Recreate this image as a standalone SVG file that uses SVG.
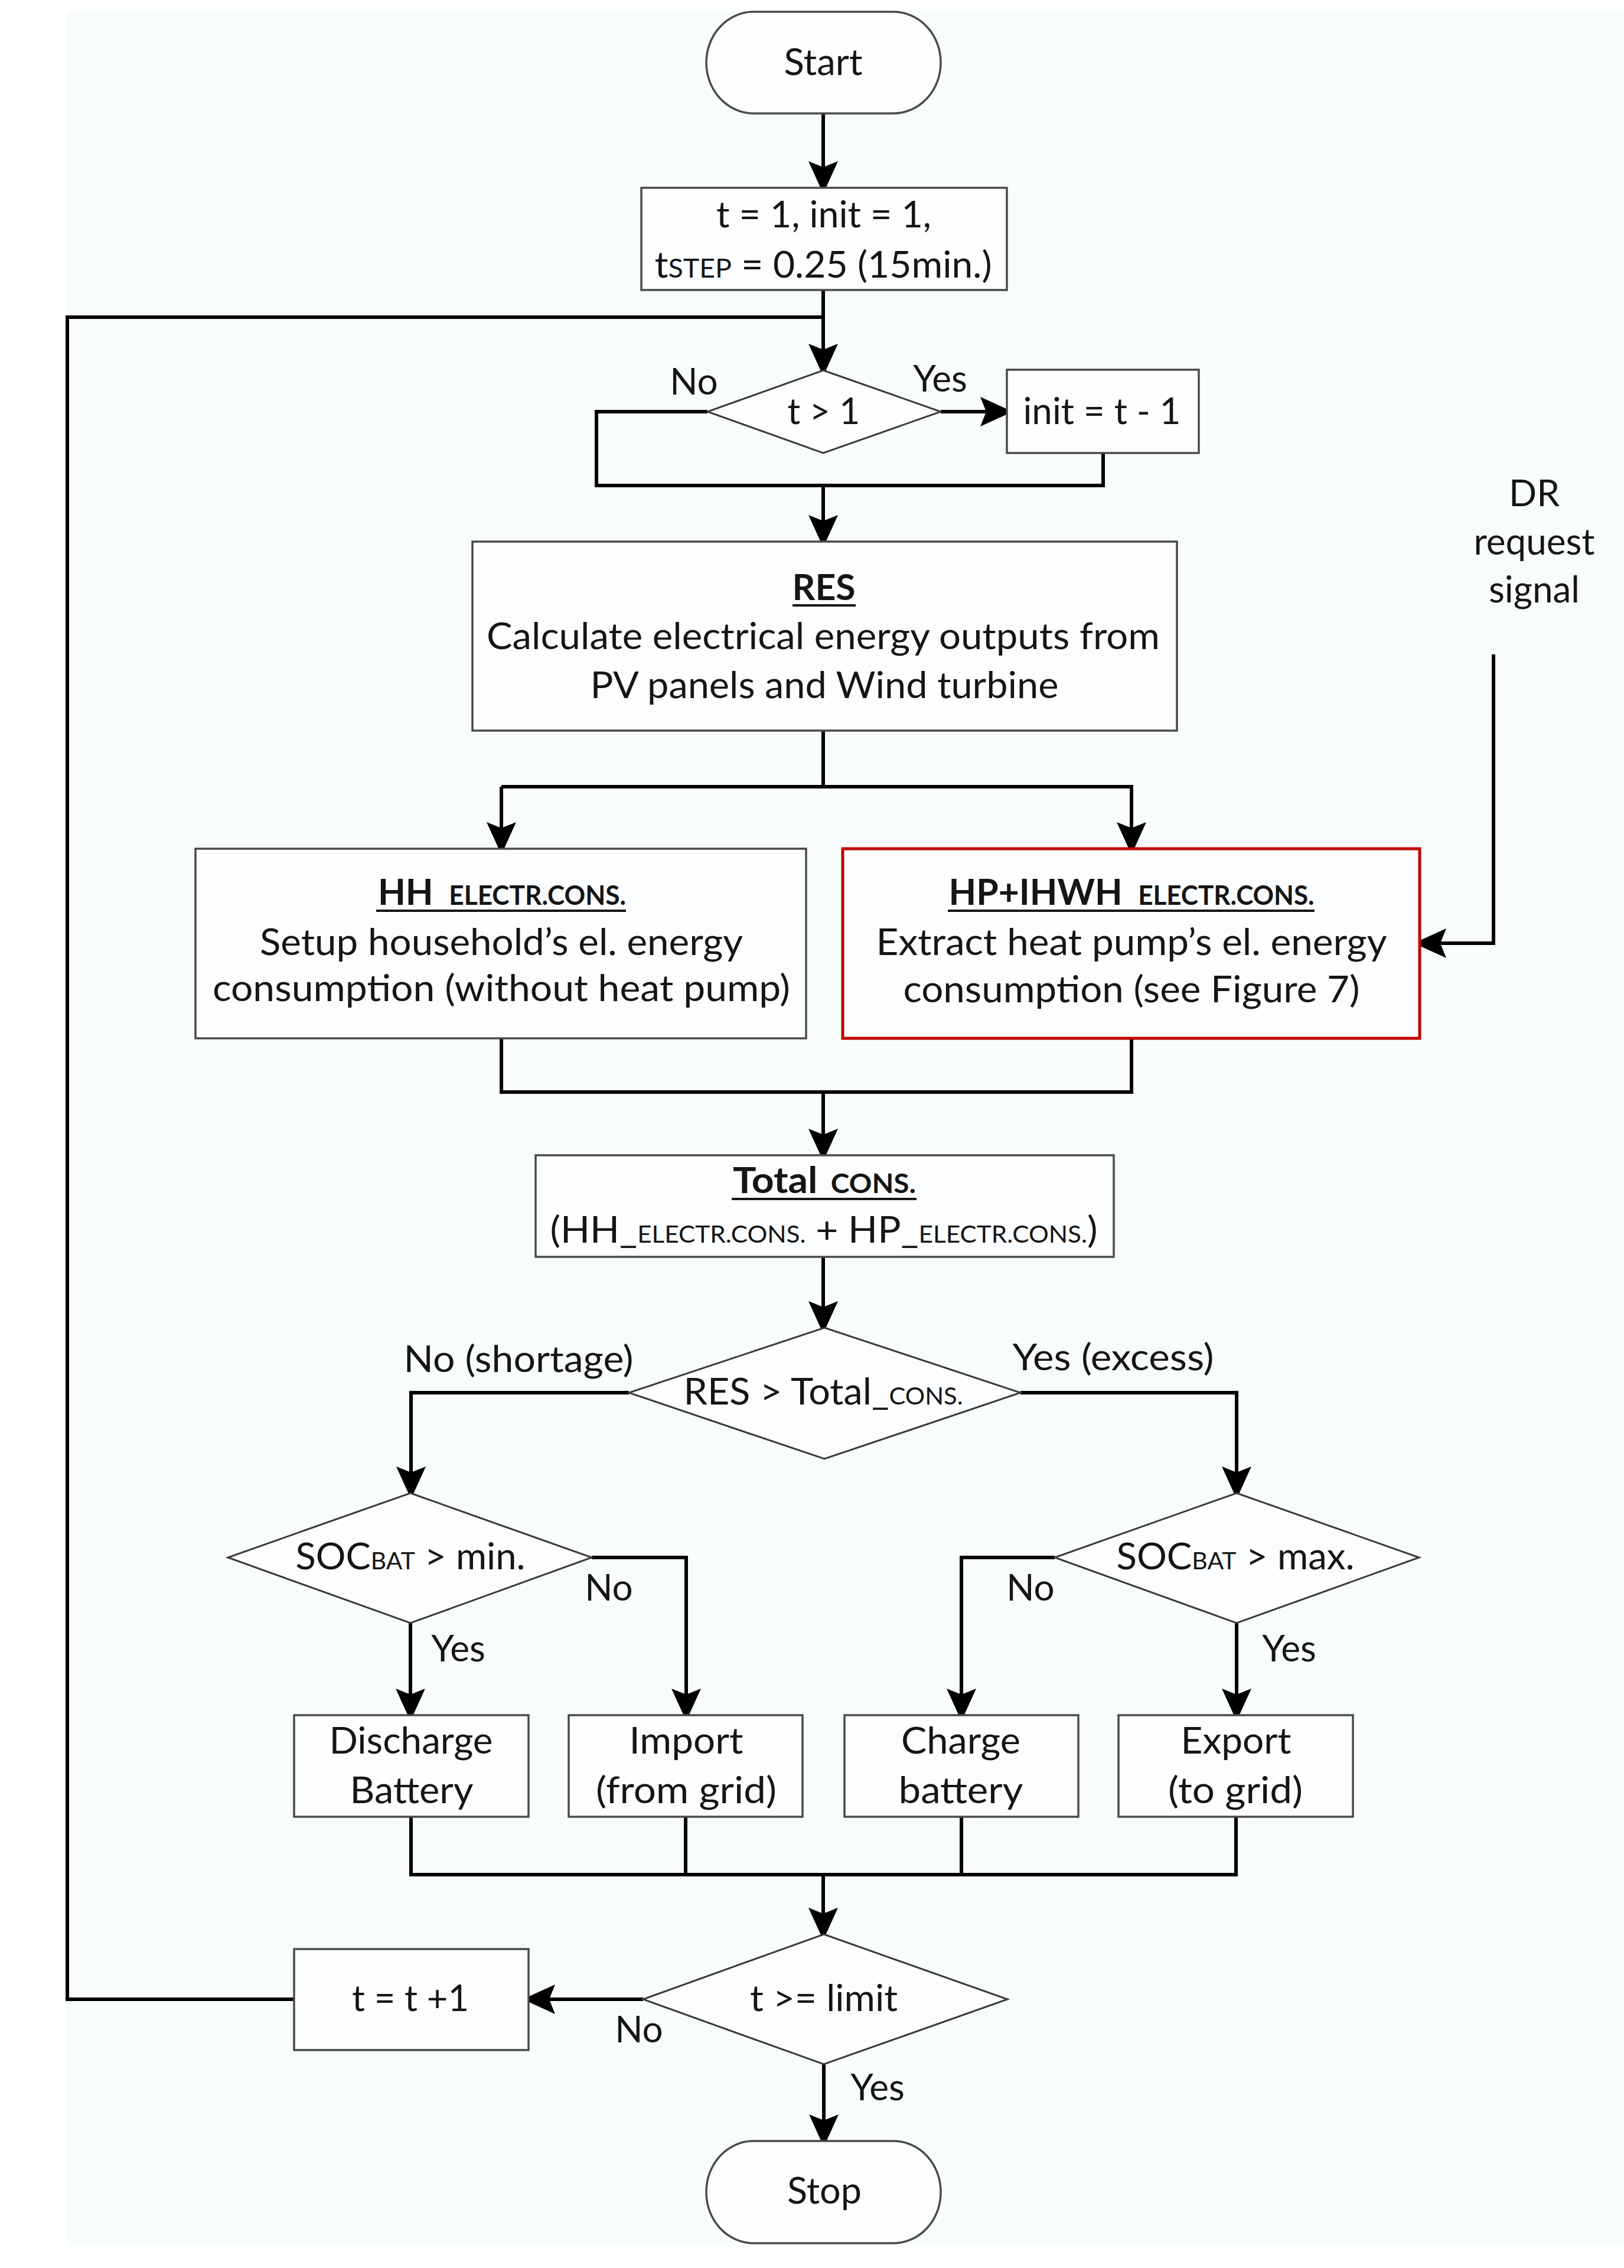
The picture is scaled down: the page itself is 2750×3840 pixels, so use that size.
<svg xmlns="http://www.w3.org/2000/svg" width="2750" height="3840" viewBox="0 0 2750 3840">
<style>
.t{font-family:Lato,'Open Sans','Liberation Sans',sans-serif;font-size:62px;fill:#151515;text-anchor:middle}
.b{font-weight:bold}
.s{font-size:45px}
.s2{font-size:40px}
.box{fill:#fbfdfe;stroke:#4a4a4a;stroke-width:3.5}
.dia{fill:#fbfdfe;stroke:#3a3a3a;stroke-width:3}
.red{fill:#fbfdfe;stroke:#c00000;stroke-width:5}
.c{fill:none;stroke:#000;stroke-width:6;stroke-linejoin:miter}
.a{marker-end:url(#ah)}
.ul{stroke:#151515;stroke-width:4}
</style>
<defs>
<marker id="ah" viewBox="0 0 55 50" refX="45" refY="25" markerWidth="55" markerHeight="50" markerUnits="userSpaceOnUse" orient="auto">
<path d="M0,0 L55,25 L0,50 L10,25 Z" fill="#000"/>
</marker>
</defs>
<rect width="2750" height="3840" fill="#ffffff"/>
<rect x="112" y="18" width="2638" height="3786" fill="#f9fcfd"/>

<g id="connectors">
<path class="c a" d="M1394,192 V318"/>
<path class="c a" d="M1394,491 V627"/>
<path class="c a" d="M1593,697 H1705"/>
<path class="c" d="M1198,697 H1010 V822 H1868 V767"/>
<path class="c a" d="M1394,822 V917"/>
<path class="c" d="M1394,1237 V1332"/>
<path class="c a" d="M849,1332 H1394 M849,1332 V1437"/>
<path class="c a" d="M1394,1332 H1916 V1437"/>
<path class="c a" d="M2529,1108 V1597 H2404"/>
<path class="c" d="M849,1758 V1849 H1916 V1758"/>
<path class="c a" d="M1394,1849 V1956"/>
<path class="c a" d="M1394,2128 V2248"/>
<path class="c a" d="M1065,2358 H696 V2528"/>
<path class="c a" d="M1728,2358 H2094 V2528"/>
<path class="c a" d="M695,2748 V2904"/>
<path class="c a" d="M1002,2637 H1162 V2904"/>
<path class="c a" d="M2094,2748 V2904"/>
<path class="c a" d="M1786,2637 H1628 V2904"/>
<path class="c" d="M696,3076 V3174 H2093 V3076 M1161,3076 V3174 M1628,3076 V3174"/>
<path class="c a" d="M1394,3174 V3275"/>
<path class="c a" d="M1089,3385 H895"/>
<path class="c" d="M498,3385 H114 V537 H1394"/>
<path class="c a" d="M1395,3495 V3625"/>
</g>

<g id="start">
<rect class="box" x="1196" y="20" width="397" height="172" rx="80" ry="86"/>
<text class="t" x="1394" y="127" textLength="133" lengthAdjust="spacingAndGlyphs">Start</text>
</g>

<g id="init">
<rect class="box" x="1086" y="318" width="619" height="173"/>
<text class="t" x="1395" y="385" textLength="364" lengthAdjust="spacingAndGlyphs">t = 1, init = 1,</text>
<text class="t" x="1394" y="470" textLength="571" lengthAdjust="spacingAndGlyphs">t<tspan class="s">STEP</tspan> = 0.25 (15min.)</text>
</g>

<g id="dec-t1">
<polygon class="dia" points="1394,627 1593,697 1394,767 1198,697"/>
<text class="t" x="1395" y="718" textLength="123" lengthAdjust="spacingAndGlyphs">t &gt; 1</text>
<text class="t" x="1175" y="668">No</text>
<text class="t" x="1592" y="663">Yes</text>
</g>

<g id="init-update">
<rect class="box" x="1705" y="626" width="325" height="141"/>
<text class="t" x="1866" y="718" textLength="267" lengthAdjust="spacingAndGlyphs">init = t - 1</text>
</g>

<g id="dr-signal">
<text class="t" x="2598" y="857">DR</text>
<text class="t" x="2598" y="939">request</text>
<text class="t" x="2598" y="1020">signal</text>
</g>

<g id="res">
<rect class="box" x="800" y="917" width="1193" height="320"/>
<text class="t b" x="1395" y="1016" textLength="107" lengthAdjust="spacingAndGlyphs">RES</text>
<line class="ul" x1="1342" y1="1025" x2="1449" y2="1025"/>
<text class="t" x="1394" y="1099" textLength="1140" lengthAdjust="spacingAndGlyphs">Calculate electrical energy outputs from</text>
<text class="t" x="1396" y="1182" textLength="793" lengthAdjust="spacingAndGlyphs">PV panels and Wind turbine</text>
</g>

<g id="hh">
<rect class="box" x="331" y="1437" width="1034" height="321"/>
<text class="t b" x="850" y="1532" textLength="420" lengthAdjust="spacingAndGlyphs">HH <tspan class="s" dx="12">ELECTR.CONS.</tspan></text>
<line class="ul" x1="637" y1="1542" x2="1060" y2="1542"/>
<text class="t" x="849" y="1617" textLength="818" lengthAdjust="spacingAndGlyphs">Setup household’s el. energy</text>
<text class="t" x="849" y="1695" textLength="978" lengthAdjust="spacingAndGlyphs">consumption (without heat pump)</text>
</g>

<g id="hp">
<rect class="red" x="1427" y="1437" width="977" height="321"/>
<text class="t b" x="1916" y="1532" textLength="619" lengthAdjust="spacingAndGlyphs">HP+IHWH <tspan class="s" dx="12">ELECTR.CONS.</tspan></text>
<line class="ul" x1="1605" y1="1542" x2="2226" y2="1542"/>
<text class="t" x="1916" y="1617" textLength="865" lengthAdjust="spacingAndGlyphs">Extract heat pump’s el. energy</text>
<text class="t" x="1916" y="1697" textLength="773" lengthAdjust="spacingAndGlyphs">consumption (see Figure 7)</text>
</g>

<g id="total">
<rect class="box" x="907" y="1956" width="979" height="172"/>
<text class="t b" x="1396" y="2020" textLength="310" lengthAdjust="spacingAndGlyphs">Total <tspan class="s" dx="6">CONS.</tspan></text>
<line class="ul" x1="1239" y1="2030" x2="1552" y2="2030"/>
<text class="t" x="1395" y="2104" textLength="927" lengthAdjust="spacingAndGlyphs">(HH_<tspan class="s2">ELECTR.CONS.</tspan> + HP_<tspan class="s2">ELECTR.CONS.</tspan>)</text>
</g>

<g id="dec-res">
<polygon class="dia" points="1396,2248 1728,2358 1396,2470 1065,2358"/>
<text class="t" x="1394" y="2378" textLength="473" lengthAdjust="spacingAndGlyphs">RES &gt; Total_<tspan class="s2">CONS.</tspan></text>
<text class="t" x="878" y="2323" textLength="389" lengthAdjust="spacingAndGlyphs">No (shortage)</text>
<text class="t" x="1885" y="2320" textLength="341" lengthAdjust="spacingAndGlyphs">Yes (excess)</text>
</g>

<g id="dec-socmin">
<polygon class="dia" points="695,2528 1002,2637 695,2748 386,2637"/>
<text class="t" x="695" y="2657" textLength="389" lengthAdjust="spacingAndGlyphs">SOC<tspan class="s2">BAT</tspan> &gt; min.</text>
<text class="t" x="1031" y="2710">No</text>
<text class="t" x="776" y="2813">Yes</text>
</g>

<g id="dec-socmax">
<polygon class="dia" points="2094,2528 2403,2637 2094,2748 1786,2637"/>
<text class="t" x="2092" y="2657" textLength="403" lengthAdjust="spacingAndGlyphs">SOC<tspan class="s2">BAT</tspan> &gt; max.</text>
<text class="t" x="1745" y="2710">No</text>
<text class="t" x="2183" y="2813">Yes</text>
</g>

<g id="discharge">
<rect class="box" x="498" y="2904" width="397" height="172"/>
<text class="t" x="696" y="2969" textLength="277" lengthAdjust="spacingAndGlyphs">Discharge</text>
<text class="t" x="697" y="3053" textLength="209" lengthAdjust="spacingAndGlyphs">Battery</text>
</g>

<g id="import">
<rect class="box" x="963" y="2904" width="396" height="172"/>
<text class="t" x="1162" y="2969" textLength="193" lengthAdjust="spacingAndGlyphs">Import</text>
<text class="t" x="1162" y="3053" textLength="306" lengthAdjust="spacingAndGlyphs">(from grid)</text>
</g>

<g id="charge">
<rect class="box" x="1430" y="2904" width="396" height="172"/>
<text class="t" x="1627" y="2969" textLength="202" lengthAdjust="spacingAndGlyphs">Charge</text>
<text class="t" x="1627" y="3053" textLength="211" lengthAdjust="spacingAndGlyphs">battery</text>
</g>

<g id="export">
<rect class="box" x="1894" y="2904" width="397" height="172"/>
<text class="t" x="2093" y="2969" textLength="187" lengthAdjust="spacingAndGlyphs">Export</text>
<text class="t" x="2092" y="3053" textLength="228" lengthAdjust="spacingAndGlyphs">(to grid)</text>
</g>

<g id="dec-limit">
<polygon class="dia" points="1395,3275 1706,3385 1395,3495 1089,3385"/>
<text class="t" x="1395" y="3405" textLength="250" lengthAdjust="spacingAndGlyphs">t &gt;= limit</text>
<text class="t" x="1082" y="3458">No</text>
<text class="t" x="1486" y="3556">Yes</text>
</g>

<g id="increment">
<rect class="box" x="498" y="3300" width="397" height="171"/>
<text class="t" x="695" y="3405" textLength="198" lengthAdjust="spacingAndGlyphs">t = t +1</text>
</g>

<g id="stop">
<rect class="box" x="1196" y="3625" width="397" height="173" rx="80" ry="86"/>
<text class="t" x="1396" y="3731" textLength="126" lengthAdjust="spacingAndGlyphs">Stop</text>
</g>
</svg>
